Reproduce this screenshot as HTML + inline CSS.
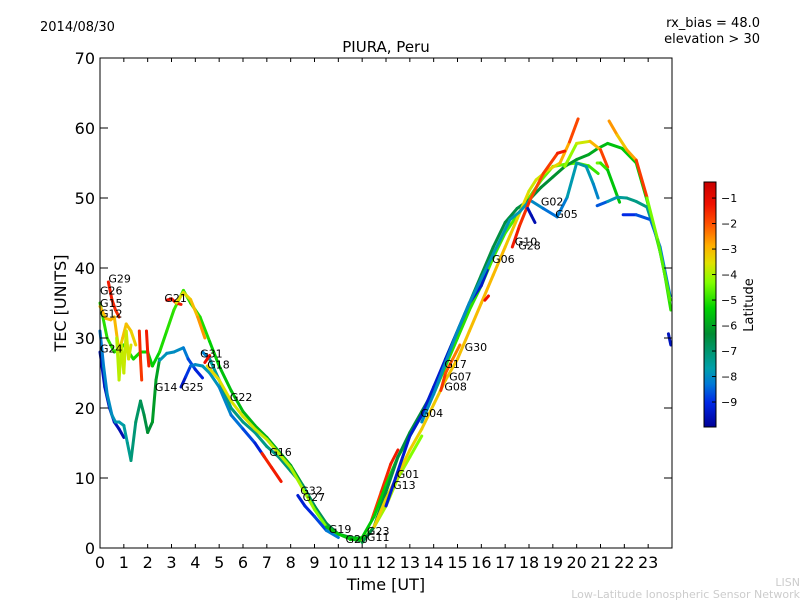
<!DOCTYPE html>
<html><head><meta charset="utf-8"><style>
body{margin:0;background:#fff;}
svg{font-family:"DejaVu Sans","Liberation Sans",sans-serif;}
</style></head><body>
<svg id="chart" width="800" height="600" viewBox="0 0 800 600" xmlns="http://www.w3.org/2000/svg">
<rect width="800" height="600" fill="#fff"/>
<text x="40" y="31" font-size="13">2014/08/30</text>
<text x="760" y="27" font-size="13" text-anchor="end">rx_bias = 48.0</text>
<text x="760" y="43" font-size="13" text-anchor="end">elevation &gt; 30</text>
<text x="386" y="52" font-size="15" text-anchor="middle">PIURA, Peru</text>
<g id="marks"></g>
<g id="labels"></g>
<rect x="100" y="58" width="572" height="490" fill="none" stroke="#000" stroke-width="1"/>
<g id="axes"></g>
<text x="386" y="590" font-size="16" text-anchor="middle">Time [UT]</text>
<text transform="translate(66,303) rotate(-90)" font-size="16" text-anchor="middle">TEC [UNITS]</text>
<defs><linearGradient id="jet" x1="0" y1="1" x2="0" y2="0"></linearGradient></defs>
<rect x="704" y="182" width="12" height="245" fill="url(#jet)" stroke="#000" stroke-width="1"/>
<g id="cbticks"></g>
<text transform="translate(753,305) rotate(-90)" font-size="13" text-anchor="middle">Latitude</text>
<text x="800" y="586" font-size="11" fill="#ccc" text-anchor="end">LISN</text>
<text x="800" y="598" font-size="11" fill="#ccc" text-anchor="end">Low-Latitude Ionospheric Sensor Network</text>
</svg>
<script>
const xTicks=[0,1,2,3,4,5,6,7,8,9,10,11,12,13,14,15,16,17,18,19,20,21,22,23];
const yTicks=[0,10,20,30,40,50,60,70];
const cbTicks=[-1,-2,-3,-4,-5,-6,-7,-8,-9];
const latMin=-9.98, latMax=-0.37;
const tracks=[
{n:"g24",t:[0,0.2,0.4,0.6,0.8,1.0],v:[28,23,20,18,17,15.8],lat:[-9.5,-9.5,-9.5,-9.5,-9.6,-9.7]},
{n:"g15",t:[0,0.15,0.3,0.5,0.65,0.8,1.0,1.15,1.3],v:[31,26,22,19,18,18,17.5,15,12.5],lat:[-8.3,-8.2,-8,-8,-7.8,-7.8,-7.6,-7.5,-7.3]},
{n:"g14",t:[1.3,1.5,1.7,1.85,2.0,2.2,2.35,2.5],v:[12.5,18,21,19,16.5,18,24,27],lat:[-7.2,-7,-6.8,-6.6,-6.4,-6.2,-6,-6]},
{n:"g26",t:[0,0.3,0.6,1.0,1.4,1.7,2.0,2.2,2.5,2.8,3.1,3.5,3.8,4.2,4.6,5.0,5.5,6,6.5,7,7.5,8,8.5,9,9.5,10,10.5,11],v:[35,30,28,29,27,28,28,26,28,31,34,36.8,35,33,29.5,26,22.5,19.5,17.5,15.8,13.8,11.8,9,6,3,2,1.5,1.4],lat:[-5,-5,-5,-5,-5.2,-5.2,-5.3,-5.5,-5.2,-5,-5,-4.8,-5,-5,-5.2,-5.5,-5.6,-5.7,-5.8,-5.8,-5.9,-6,-6,-6,-6,-6,-6,-6]},
{n:"g12",t:[0,0.25,0.45,0.6,0.8,0.95,1.1,1.3,1.5],v:[34.5,32.8,32.6,33,28,30,32,31,29],lat:[-3,-3,-3,-2.8,-3.2,-3.2,-3,-3.2,-3.4]},
{n:"g29",t:[0.35,0.5,0.65,0.8],v:[38,35.5,34,33],lat:[-1.3,-1.4,-1.5,-1.6]},
{n:"yel",t:[0.7,0.8,0.9,1.0,1.1,1.2,1.3],v:[30,24,29,25,31,27,29],lat:[-3.9,-3.9,-3.8,-3.8,-3.7,-3.7,-3.6]},
{n:"red1",t:[1.65,1.7,1.75],v:[31,27,24],lat:[-1.5,-1.6,-1.8]},
{n:"red2",t:[1.95,2.0,2.05],v:[31,28,26],lat:[-1.3,-1.4,-1.5]},
{n:"g21a",t:[2.8,3.0,3.2,3.4],v:[35.4,35.6,35,34.8],lat:[-1.2,-1.2,-1.3,-1.4]},
{n:"g21b",t:[3.2,3.5,3.8,4.1,4.4],v:[35,36.5,35.5,33,30],lat:[-3.4,-3.6,-3.3,-2.8,-2.5]},
{n:"g14b",t:[2.5,2.8,3.1,3.5,3.7,4.0,4.3],v:[26.8,27.8,28,28.6,27,25.5,24.3],lat:[-7.8,-7.9,-8,-8,-8.5,-9,-9.3]},
{n:"g25",t:[3.4,3.6,3.8,4.0,4.3,4.6,5.0,5.5,6.0,6.5,6.9],v:[23,24.5,26,26.2,26,25,23,19,17,15,13],lat:[-9.5,-9.3,-8.5,-8.2,-7.8,-7.8,-8,-8.2,-8.5,-9,-9.4]},
{n:"g31",t:[4.3,4.6,5.0,5.5,6,6.5,7,7.5,8,8.5,9,9.5,10,10.5,11,11.5,12],v:[28,27,24,20,18,16.5,14.5,13,11,9,6,3.5,2,1.3,1,3,8],lat:[-8.5,-7.8,-7.3,-7.2,-7.2,-7.3,-7.3,-7.2,-7,-7,-6.8,-6.6,-6.5,-6.4,-6.2,-6,-6]},
{n:"g22",t:[4.5,5,5.5,6,6.5,7,7.5,8,8.5,9,9.5,10],v:[26,24,21,18.8,17,15.5,13.5,11.5,8.5,5.5,3,2],lat:[-3.4,-3.5,-3.6,-3.6,-3.7,-3.8,-3.8,-4,-4,-4.2,-4.5,-4.8]},
{n:"g18",t:[4.4,4.6],v:[26.5,27.5],lat:[-1.2,-1.2]},
{n:"g16",t:[6.8,7.2,7.6],v:[13.5,11.5,9.5],lat:[-1.5,-1.4,-1.3]},
{n:"g27",t:[8.3,8.6,9,9.5,10],v:[7.5,6,4.5,2.5,1.5],lat:[-9.3,-9.2,-9,-8.5,-8]},
{n:"g19",t:[9.5,10,10.5,11,11.3],v:[3,2,1.3,1.2,2],lat:[-5.5,-5.5,-5.4,-5.3,-5.2]},
{n:"g01",t:[11.4,11.8,12.2,12.5],v:[4,8,12,14],lat:[-1.8,-1.6,-1.4,-1.3]},
{n:"g13",t:[11,11.5,12,12.5,13,13.5],v:[1,3,6,10,13,16],lat:[-4.2,-4.1,-4,-4,-4.2,-4.4]},
{n:"u1",t:[10.5,11,11.5,12,12.5,13,13.5,14,14.5,15,15.5,16,16.5,17,17.5,18,18.5,19,19.5,20,20.5,20.9],v:[1.2,1.5,4.5,9,13,16,19,22,26,30,34,37.5,41.5,45,47.5,50,52.5,54.5,54.8,55,54.6,53.5],lat:[-5.5,-5.5,-5.4,-5.3,-5.2,-5.2,-5.2,-5.1,-5,-5,-5,-4.9,-4.8,-4.8,-4.7,-4.6,-4.6,-4.5,-4.5,-4.6,-4.8,-5]},
{n:"u2",t:[11,11.5,12,12.5,13,13.5,14,14.5,15,15.5,16,16.5,17,17.5,18,18.5,19,19.5,20,20.5,20.9,21.3,21.9,22.5,22.95,23.3,23.6,23.95],v:[0.8,3,8,13,16.5,19.5,22.5,27,31,35,39,43,46.5,48.5,49.7,51.5,53,54.5,55.5,56.2,57.1,57.8,57.1,55,49.7,45,41,34],lat:[-6.5,-6.5,-6.5,-6.5,-6.5,-6.5,-6.5,-6.5,-6.5,-6.5,-6.5,-6.5,-6.5,-6.5,-6.5,-6.4,-6.3,-6.2,-6.1,-6,-5.8,-5.6,-5.5,-5.4,-5.3,-5.2,-5,-5]},
{n:"u3",t:[11.5,12,12.5,13,13.5,14,14.5,15,15.5,16,16.5,17,17.5,18,18.3,18.8,19.3,19.7,20.06],v:[3,7,10.5,14,17,20.5,24,27,31,35,39,43,47,51,52.6,54,55,58,61.3],lat:[-3.3,-3.3,-3.3,-3.3,-3.2,-3.2,-3.2,-3.1,-3.1,-3,-3,-3,-3.3,-3.6,-3.8,-3.5,-3.2,-2.5,-1.3]},
{n:"u4",t:[12.0,12.4,13,13.5,14,14.5,15,15.5,16,16.25],v:[6,10,16,19,23,27,31,35,37.5,39.7],lat:[-9.3,-9.3,-9.3,-9.3,-9.3,-9.3,-9.3,-9.3,-9.3,-9.4]},
{n:"g05",t:[13.5,14,14.5,15,15.5,16,16.5,17,17.2,17.6,18.04,18.6,19.18,19.6,20.0,20.4,20.7,20.9],v:[18,22,26.5,31,35,38.5,42,45.5,46.9,48,49.7,48.5,47.3,50.1,55,54.5,52,50],lat:[-8,-8,-8,-8,-8,-8,-7.8,-7.8,-7.8,-7.8,-7.9,-8.2,-8.5,-8,-7.5,-7.6,-8,-8.2]},
{n:"g10",t:[17.3,17.6,18.04,18.6,19.2,19.5],v:[43,46,49.7,53.5,56.4,56.7],lat:[-1.3,-1.4,-1.8,-2,-1.5,-1.2]},
{n:"g28",t:[17.95,18.1,18.25],v:[48.5,47.5,46.5],lat:[-9.5,-9.6,-9.7]},
{n:"ypk",t:[19.5,20.0,20.56,21.0,21.3],v:[54.5,57.8,58.1,56.9,54.4],lat:[-4.3,-4,-3.4,-2.5,-1.2]},
{n:"ygr",t:[20.86,21.0,21.3,21.8],v:[55,55,54,49.4],lat:[-4.4,-4.6,-5.2,-5.8]},
{n:"orr",t:[21.36,21.7,22.1,22.5,22.95],v:[61,59,56.9,55.4,50.1],lat:[-2.3,-3,-3.3,-2.2,-1.3]},
{n:"tlr",t:[20.86,21.3,21.7,22.1,22.5,22.95,23.4,23.92],v:[48.9,49.5,50.1,50,49.5,48.7,44,35.4],lat:[-9.2,-8,-7.7,-7.3,-7.2,-7.3,-7.5,-7.7]},
{n:"blt",t:[21.95,22.5,23.1,23.5,23.92],v:[47.6,47.6,46.9,43,36],lat:[-9.2,-8.8,-8.5,-8.3,-8.2]},
{n:"ylr",t:[22.95,23.4,23.92],v:[50,44,35.4],lat:[-4.3,-4.5,-4.8]},
{n:"blr",t:[23.85,23.95],v:[30.6,29],lat:[-9.5,-9.5]},
{n:"g30r",t:[16.15,16.3],v:[35.4,36],lat:[-1.2,-1.2]},
{n:"g07",t:[14.3,14.5,14.8,15.1],v:[22.5,25,27,29],lat:[-1.6,-1.8,-2.2,-2.6]}
];
const satNames=["G29","G26","G15","G12","G24","G21","G31","G18","G14","G25","G22","G16","G32","G27","G19","G20","G23","G11","G01","G13","G04","G08","G07","G17","G30","G06","G10","G28","G05","G02"];
const satT=[0.35,0,0,0,0,2.7,4.2,4.5,2.3,3.4,5.45,7.1,8.4,8.5,9.6,10.3,11.2,11.2,12.45,12.3,13.45,14.45,14.65,14.45,15.3,16.45,17.4,17.55,19.1,18.5];
const satV=[38.5,36.8,35,33.5,28.5,35.7,27.8,26.2,23,23,21.6,13.7,8.2,7.3,2.7,1.3,2.4,1.6,10.6,9,19.3,23.1,24.5,26.3,28.7,41.3,43.8,43.2,47.7,49.5];

const X=t=>100+t*572/24, Y=v=>548-v*7;
const CY=l=>182+(latMax-l)/(latMax-latMin)*245;
const cmap=[[0,[0,0,150]],[0.1,[0,40,230]],[0.175,[0,120,215]],[0.24,[0,160,170]],[0.31,[0,150,110]],[0.38,[0,140,50]],[0.485,[0,210,0]],[0.59,[130,255,0]],[0.67,[225,225,0]],[0.74,[255,175,0]],[0.83,[255,80,0]],[0.91,[240,16,0]],[1,[200,0,0]]];
function jet(l){let f=(l-latMin)/(latMax-latMin);f=Math.max(0,Math.min(1,f));
for(let i=0;i<cmap.length-1;i++){const a=cmap[i],b=cmap[i+1];if(f<=b[0]){const u=(f-a[0])/(b[0]-a[0]);
const c=a[1].map((x,k)=>Math.round(x+(b[1][k]-x)*u));return `rgb(${c[0]},${c[1]},${c[2]})`;}}
return 'rgb(200,0,0)';}
const NS="http://www.w3.org/2000/svg";
const grad=document.getElementById('jet');
cmap.forEach(s=>{const st=document.createElementNS(NS,'stop');st.setAttribute('offset',s[0]);st.setAttribute('stop-color',`rgb(${s[1].join(',')})`);grad.appendChild(st);});
const marks=document.getElementById('marks');
tracks.forEach(tr=>{
 const g=document.createElementNS(NS,'g');
 
 
 for(let i=0;i<tr.t.length-1;i++){
  const l=document.createElementNS(NS,'line');
  l.setAttribute('x1',X(tr.t[i]));l.setAttribute('y1',Y(tr.v[i]));
  l.setAttribute('x2',X(tr.t[i+1]));l.setAttribute('y2',Y(tr.v[i+1]));
  l.setAttribute('stroke',jet((tr.lat[i]+tr.lat[i+1])/2));
  l.setAttribute('stroke-width','3');l.setAttribute('stroke-linecap','round');
  
  
  g.appendChild(l);
 }
 marks.appendChild(g);
});
const labs=document.getElementById('labels');
satNames.forEach((s,i)=>{
 const t=document.createElementNS(NS,'text');
 t.setAttribute('x',X(satT[i]));t.setAttribute('y',Y(satV[i])+4);
 t.setAttribute('font-size','11');t.textContent=s;
 
 
 labs.appendChild(t);
});
const ax=document.getElementById('axes');
function add(tag,attrs,txt,name){const e=document.createElementNS(NS,tag);for(const k in attrs)e.setAttribute(k,attrs[k]);if(txt!==undefined)e.textContent=txt;


return e;}
xTicks.forEach(t=>{const x=X(t);
 ax.appendChild(add('line',{x1:x,y1:548,x2:x,y2:544,stroke:'#000'},undefined,'x-tick'));
 ax.appendChild(add('line',{x1:x,y1:58,x2:x,y2:62,stroke:'#000'},undefined,'x-tick-top'));
 ax.appendChild(add('text',{x:x,y:568,'font-size':16,'text-anchor':'middle'},String(t),'x-tick-label'));});
yTicks.forEach(v=>{const y=Y(v);
 ax.appendChild(add('line',{x1:100,y1:y,x2:108,y2:y,stroke:'#000'},undefined,'y-tick'));
 ax.appendChild(add('line',{x1:672,y1:y,x2:664,y2:y,stroke:'#000'},undefined,'y-tick-right'));
 ax.appendChild(add('text',{x:95,y:y+6,'font-size':16,'text-anchor':'end'},String(v),'y-tick-label'));});
const cb=document.getElementById('cbticks');
cbTicks.forEach(l=>{const y=CY(l);
 cb.appendChild(add('line',{x1:712,y1:y,x2:716,y2:y,stroke:'#000'},undefined,'colorbar-tick'));
 cb.appendChild(add('text',{x:721,y:y+4,'font-size':11},'\u2212'+Math.abs(l),'colorbar-tick-label'));});
</script>
</body></html>
